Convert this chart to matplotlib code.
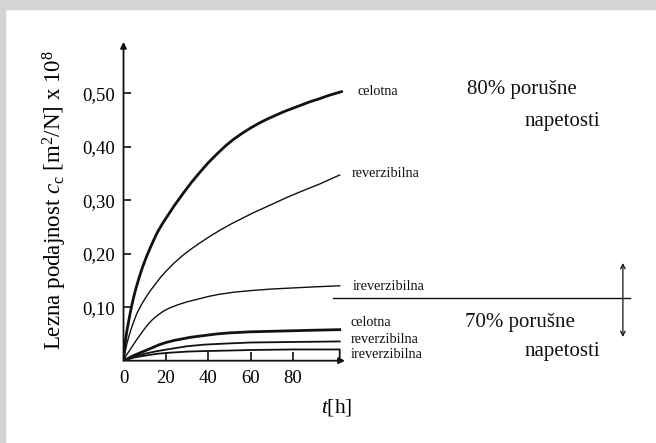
import matplotlib.pyplot as plt
from matplotlib.patches import Rectangle

plt.rcParams['font.family'] = ['Liberation Serif', 'DejaVu Serif']
plt.rcParams['mathtext.fontset'] = 'custom'
plt.rcParams['mathtext.rm'] = 'Liberation Serif'
plt.rcParams['mathtext.it'] = 'Liberation Serif:italic'

# creep compliance curves, time in hours, c_c in m^2/N x 10^8
# 80% of failure stress
t_cel80 = [0, 0.5, 1, 1.7, 2.5, 3.2, 4, 5, 6, 7.5, 9, 10.7, 12.5, 14.2, 16, 18.2, 20.5,
           24, 28, 32, 36, 40, 44, 48, 52, 56, 60, 64, 68, 72, 76, 80, 84, 88, 92, 97, 103]
c_cel80 = [0, 0.022, 0.04, 0.058, 0.075, 0.09, 0.105, 0.122, 0.137, 0.157, 0.175, 0.193,
           0.21, 0.225, 0.24, 0.255, 0.269, 0.29, 0.312, 0.333, 0.352, 0.37, 0.386, 0.401,
           0.414, 0.425, 0.435, 0.444, 0.452, 0.459, 0.466, 0.472, 0.478, 0.484, 0.489,
           0.496, 0.503]
t_rev80 = [0, 0.7, 1.5, 2.5, 3.5, 5, 6.5, 8.5, 10.5, 12.5, 15, 17.5, 20, 24, 28, 32, 36,
           41, 46, 51, 56, 61, 66, 71, 77, 83, 88, 93, 98, 102]
c_rev80 = [0, 0.015, 0.03, 0.045, 0.058, 0.075, 0.09, 0.105, 0.118, 0.13, 0.143, 0.156,
           0.167, 0.183, 0.197, 0.209, 0.22, 0.233, 0.245, 0.256, 0.266, 0.276, 0.285,
           0.294, 0.305, 0.315, 0.323, 0.331, 0.34, 0.347]
t_irev80 = [0, 1, 2, 3, 4.5, 6, 8, 10, 12, 14, 16.5, 19, 22, 26, 30, 35, 40, 45, 52, 60,
            70, 80, 90, 102]
c_irev80 = [0, 0.008, 0.014, 0.02, 0.029, 0.038, 0.049, 0.06, 0.07, 0.078, 0.086, 0.093,
            0.099, 0.105, 0.11, 0.115, 0.12, 0.124, 0.128, 0.131, 0.134, 0.136, 0.138, 0.14]

# 70% of failure stress
t_cel70 = [0, 2, 5, 8, 11, 14, 17, 20, 24, 28, 32, 38, 44, 50, 60, 70, 80, 90, 102]
c_cel70 = [0, 0.004, 0.01, 0.015, 0.02, 0.025, 0.03, 0.034, 0.038, 0.041, 0.044, 0.047,
           0.05, 0.052, 0.054, 0.055, 0.056, 0.057, 0.058]
t_rev70 = [0, 5, 11, 16, 22, 30, 38, 48, 60, 80, 102]
c_rev70 = [0, 0.008, 0.014, 0.018, 0.022, 0.027, 0.03, 0.032, 0.034, 0.035, 0.036]
t_irev70 = [0, 5, 11, 16, 22, 30, 38, 50, 60, 80, 102, 102]
c_irev70 = [0, 0.006, 0.01, 0.013, 0.015, 0.017, 0.018, 0.019, 0.02, 0.021, 0.021, 0]

x_ticks = [0, 20, 40, 60, 80]
y_ticks = [0.1, 0.2, 0.3, 0.4, 0.5]
y_tick_labels = ['0,10', '0,20', '0,30', '0,40', '0,50']

fig = plt.figure(figsize=(6.56, 4.43), dpi=100)
# grey frame strip along top and left edge
fig.patches.append(Rectangle((0, 1 - 9 / 443), 1, 9 / 443, transform=fig.transFigure,
                             color='#d3d4d6', zorder=0))
fig.patches.append(Rectangle((0, 0), 5 / 656, 1, transform=fig.transFigure,
                             color='#d3d4d6', zorder=0))

ax = fig.add_axes([123.5 / 656, 82.3 / 443, 221.5 / 656, 318.9 / 443])
ax.set_xlim(0, 104.5)
ax.set_ylim(0, 0.596)
for s in ax.spines.values():
    s.set_visible(False)
ax.patch.set_alpha(0)

ink = '#111111'
# axes drawn as arrows
ax.annotate('', xy=(104.5, 0), xytext=(0, 0),
            arrowprops=dict(arrowstyle='-|>', lw=1.3, color=ink, mutation_scale=9,
                            shrinkA=0, shrinkB=0))
ax.annotate('', xy=(0, 0.596), xytext=(0, 0),
            arrowprops=dict(arrowstyle='-|>', lw=1.3, color=ink, mutation_scale=9,
                            shrinkA=0, shrinkB=0))

ax.plot(t_cel80, c_cel80, color=ink, lw=2.0, solid_capstyle='round')
ax.plot(t_rev80, c_rev80, color=ink, lw=1.0)
ax.plot(t_irev80, c_irev80, color=ink, lw=1.0)
ax.plot(t_cel70, c_cel70, color=ink, lw=2.0)
ax.plot(t_rev70, c_rev70, color=ink, lw=1.3)
ax.plot(t_irev70, c_irev70, color=ink, lw=1.3)

ax.set_xticks(x_ticks)
ax.set_xticklabels([str(v) for v in x_ticks])
ax.set_yticks(y_ticks)
ax.set_yticklabels(y_tick_labels)
ax.tick_params(axis='x', direction='in', length=6.5, width=1.2, color=ink,
               labelsize=13.5, pad=7)
ax.tick_params(axis='y', direction='in', length=5, width=1.2, color=ink,
               labelsize=13.5, pad=6)

ax.set_ylabel(r'Lezna podajnost $c_{\mathrm{c}}$ [m$^2$/N] x 10$^8$', fontsize=16.5,
              va='center')
ax.yaxis.set_label_coords(-0.31, 0.504)
ax.text(100.7, -0.088, r'$t$[h]', fontsize=15.5, ha='center', va='center')

# curve names
lab = dict(fontsize=10.3, ha='left', va='center', color=ink)
ax.text(110.6, 0.503, 'celotna', **lab)
ax.text(107.8, 0.349, 'reverzibilna', **lab)
ax.text(108.3, 0.1396, 'ireverzibilna', **lab)
ax.text(107.3, 0.0705, 'celotna', **lab)
ax.text(107.3, 0.0387, 'reverzibilna', **lab)
ax.text(107.3, 0.0107, 'ireverzibilna', **lab)

big = dict(fontsize=15, va='center', color=ink)
ax.text(162, 0.507, '80% porušne', ha='left', **big)
ax.text(224.8, 0.447, 'napetosti', ha='right', **big)
ax.text(161, 0.0705, '70% porušne', ha='left', **big)
ax.text(224.8, 0.0163, 'napetosti', ha='right', **big)

# separator between the two load levels
ax.plot([98.8, 238.9], [0.1166, 0.1166], color=ink, lw=1.0, clip_on=False)
ax.annotate('', xy=(235.6, 0.1826), xytext=(235.6, 0.0443),
            arrowprops=dict(arrowstyle='<->', lw=0.9, color=ink, mutation_scale=8,
                            shrinkA=0, shrinkB=0), annotation_clip=False)

fig.savefig('out.png', dpi=100)
